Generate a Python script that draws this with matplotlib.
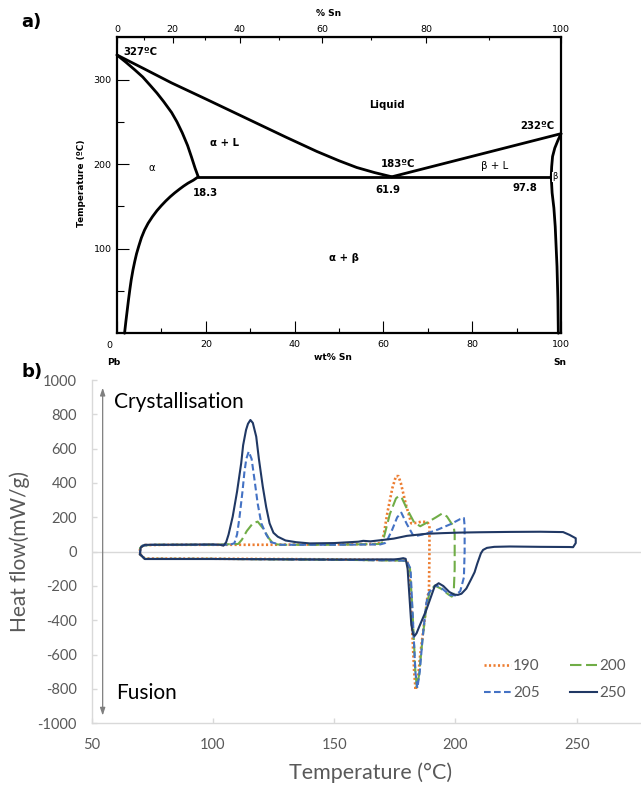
import numpy as np
import matplotlib
matplotlib.use('Agg')
import matplotlib.pyplot as plt
from matplotlib.ticker import FixedLocator

plt.rcParams['font.family'] = ['DejaVu Sans']
plt.rcParams['axes.unicode_minus'] = False

# ---------------- panel a: Pb-Sn phase diagram (wt% Sn, T in degC) ----------------
liq_left_wt = [0, 6, 12.3, 20, 30, 38, 45, 50, 54, 58, 61.9]
liq_left_t = [329, 313, 296, 277, 252, 232, 215, 204, 196, 190, 185]

sol_alpha_wt = [0, 2, 4, 5.8, 7.5, 9, 10.5, 12.3, 13.5, 14.7, 15.9, 16.8, 17.6, 18.3]
sol_alpha_t = [329, 320.5, 311.5, 303, 293, 284, 274, 261, 250, 237, 222, 208, 195, 185]

solvus_alpha_wt = [18.3, 17.2, 16, 15, 14.1, 13, 12, 11, 10, 9, 8, 7, 6.2, 5.5, 4.9,
                   4.4, 4, 3.6, 3.2, 2.9, 2.6, 2.3, 2, 1.7]
solvus_alpha_t = [185, 181, 177.5, 174, 170.5, 166, 161.5, 156.5, 151, 145, 138, 130,
                  122, 113, 103, 94, 85, 75, 63, 52, 40, 27, 14, 0]

eutectic_wt = [18.3, 97.8]
eutectic_t = [185, 185]

liq_right_wt = [61.9, 100]
liq_right_t = [185, 236]

sol_beta_wt = [100, 99.3, 98.6, 98.1, 97.9, 97.8]
sol_beta_t = [236, 228, 219, 209, 197, 185]

solvus_beta_wt = [97.8, 98.0, 98.4, 98.7, 99.1, 99.3, 99.4]
solvus_beta_t = [185, 166, 148, 126, 79, 40, 0]

wt_ticks = [0, 20, 40, 60, 80, 100]
at_ticks = [0, 20, 40, 60, 80, 100]
t_ticks = [100, 200, 300]

M_SN, M_PB = 118.71, 207.2


def wt2at(w):
    w = np.asarray(w, dtype=float)
    a = w / M_SN
    b = (100 - w) / M_PB
    return 100 * a / np.maximum(a + b, 1e-12)


def at2wt(x):
    x = np.asarray(x, dtype=float)
    a = x * M_SN
    b = (100 - x) * M_PB
    return 100 * a / np.maximum(a + b, 1e-12)


# ---------------- panel b: DSC loops (T in degC, heat flow mW/g) ----------------
t_190 = [70, 72, 100, 150, 178, 180, 181, 182, 183, 183.6, 184.5, 185.5, 187.3, 188.5,
         189.1, 189.3, 189.3, 188.5, 186, 184, 181.8, 179.5, 177.5, 176.5, 175.5, 174,
         172, 170.5, 169.5, 168, 150, 120, 100, 80, 72, 70, 70]
hf_190 = [-15, -40, -41, -45, -50, -55, -100, -400, -700, -806, -750, -600, -398, -260,
          -233, 0, 150, 172, 175, 168, 165, 280, 400, 440, 440, 370,
          230, 100, 58, 45, 42, 40, 40, 40, 38, 25, -15]

t_200 = [70, 72, 100, 150, 178, 180, 181.3, 182.5, 183.5, 184.1, 185, 186.5, 188, 189.5,
         191.5, 194, 197, 198.5, 199.3, 199.7, 199.7, 199.3, 198.3, 196.5, 194.5, 192,
         189, 185.5, 183, 180, 178, 176.7, 175.5, 173, 171, 170, 169, 150, 128, 125,
         123, 121, 118.5, 116.5, 114, 112, 110.5, 100, 75, 71, 70, 70]
hf_200 = [-15, -42, -42, -47, -52, -55, -100, -400, -700, -790, -720, -500, -320, -230,
          -198, -215, -248, -262, -240, -100, 100, 150, 166, 205, 222, 200,
          175, 148, 170, 250, 310, 325, 310, 220, 110, 55, 45, 40, 40, 45,
          80, 130, 175, 165, 120, 70, 45, 40, 40, 35, 20, -15]

t_205 = [70, 72, 100, 150, 178, 180, 181.5, 182.5, 183.5, 184.3, 185.3, 186.5, 188, 189,
         191.9, 194.5, 197.6, 200, 202, 203.5, 203.8, 203.8, 203.5, 202, 198, 193, 188,
         184, 182.5, 180, 177.7, 176, 174, 172, 171, 169, 150, 128, 124, 122, 120,
         118.5, 117.2, 116, 114.8, 113.8, 113, 112.3, 111, 110, 108.9, 107, 100, 75,
         71, 70, 70]
hf_205 = [-15, -42, -42, -47, -52, -55, -100, -400, -700, -795, -700, -500, -300, -240,
          -195, -215, -252, -255, -230, -150, 0, 150, 196, 190, 160, 130, 105,
          92, 97, 160, 227, 200, 130, 70, 50, 42, 40, 40, 55, 100, 165,
          280, 418, 540, 583, 540, 460, 359, 200, 100, 49, 40, 40, 40,
          35, 20, -15]

t_250 = [70, 72, 100, 150, 175, 177, 178.5, 179.5, 180.3, 181, 181.8, 182.5, 183.2, 184,
         185, 186.5, 188, 190, 191.5, 193.1, 195, 197.5, 199.5, 201, 202.5, 204.5, 206.5,
         207.9, 209, 210.5, 211.4, 213, 216, 222.4, 235, 247, 248.5, 249.6, 249.6, 247,
         244.4, 235, 222.4, 210, 201.7, 195, 188, 180, 174.6, 170, 165, 162, 160, 150,
         140, 134.4, 130, 126.8, 125, 123.4, 122, 120.6, 119, 117.9, 116.5, 115.5, 114.5,
         113.7, 112.5, 111.7, 110, 108.2, 106.5, 105.5, 104.4, 103, 100, 80, 72, 70.3, 70]
hf_250 = [-15, -43, -43, -46, -45, -42, -38, -42, -100, -250, -420, -480, -491, -475,
          -440, -390, -340, -260, -200, -184, -200, -235, -250, -252, -245, -215, -160,
          -120, -70, -10, 10, 22, 28, 30, 28, 27, 26, 50, 78, 98,
          114, 116, 115, 113, 111, 108, 104, 92, 76, 68, 60, 63, 58, 50,
          48, 55, 65, 87, 110, 165, 260, 379, 540, 670, 750, 767, 745,
          709, 620, 515, 350, 204, 100, 55, 35, 40, 42, 40, 40, 25, -15]

series_labels = ['190', '200', '205', '250']
series_colors = ['#ED7D31', '#70AD47', '#4472C4', '#203864']

hf_ticks = list(range(-1000, 1001, 200))
temp_ticks = [50, 100, 150, 200, 250]

# ---------------- figure ----------------
fig = plt.figure(figsize=(6.41, 7.86), dpi=100)

# panel a
ax = fig.add_axes([117 / 641, 0.576, 444 / 641, 0.3766])
lw_curve = 2.0
for xs, ys in [(liq_left_wt, liq_left_t), (sol_alpha_wt, sol_alpha_t),
               (solvus_alpha_wt, solvus_alpha_t), (eutectic_wt, eutectic_t),
               (liq_right_wt, liq_right_t), (sol_beta_wt, sol_beta_t),
               (solvus_beta_wt, solvus_beta_t)]:
    ax.plot(xs, ys, color='black', lw=lw_curve, solid_capstyle='round',
            solid_joinstyle='round', clip_on=False)
ax.set_xlim(0, 100)
ax.set_ylim(0, 350)
for s in ax.spines.values():
    s.set_linewidth(1.6)
ax.set_xticks(wt_ticks)
ax.set_xticklabels([''] + [str(v) for v in wt_ticks[1:]])
ax.xaxis.set_minor_locator(FixedLocator(list(range(10, 100, 20))))
ax.set_yticks(t_ticks)
ax.yaxis.set_minor_locator(FixedLocator([50, 150, 250]))
ax.tick_params(axis='x', which='major', direction='in', length=8.5, width=0.8,
               pad=4.5, labelsize=6.8, bottom=True, top=False)
ax.tick_params(axis='x', which='minor', direction='in', length=3.6, width=0.8,
               bottom=True, top=False)
ax.tick_params(axis='y', which='major', direction='in', length=8.3, width=0.8,
               pad=4, labelsize=6.8, left=True, right=False)
ax.tick_params(axis='y', which='minor', direction='in', length=4.7, width=0.8,
               left=True, right=False)

sec = ax.secondary_xaxis('top', functions=(wt2at, at2wt))
sec.set_xticks(at_ticks)
sec.set_xticks(list(range(10, 100, 20)), minor=True)
sec.tick_params(which='major', direction='in', length=4.3, width=0.8, pad=2.5,
                labelsize=6.8)
sec.tick_params(which='minor', direction='in', length=2.5, width=0.8)

bold_kw = dict(fontsize=7.3, fontweight='bold', ha='center', va='center')
ax.text(5.3, 332, '327ºC', **bold_kw)
ax.text(60.8, 270, 'Liquid', **bold_kw)
ax.text(94.6, 245, '232ºC', **bold_kw)
ax.text(24.2, 225, 'α + L', **bold_kw)
ax.text(7.8, 195, 'α', fontsize=7.3, ha='center', va='center')
ax.text(63.4, 200, '183ºC', **bold_kw)
ax.text(85.1, 198, 'β + L', fontsize=7.3, ha='center', va='center')
ax.text(98.6, 185, 'β', fontsize=6, ha='center', va='center',
        bbox=dict(facecolor='white', edgecolor='none', pad=0.3))
ax.text(19.9, 166, '18.3', **bold_kw)
ax.text(61.1, 169, '61.9', **bold_kw)
ax.text(91.8, 172, '97.8', **bold_kw)
ax.text(51.2, 89, 'α + β', **bold_kw)

fig.text(109.3 / 641, 1 - 345 / 786, '0', fontsize=6.8, ha='center', va='center')
fig.text(329 / 641, 1 - 14 / 786, '% Sn', fontsize=6.6, fontweight='bold',
         ha='center', va='center')
fig.text(333 / 641, 1 - 358 / 786, 'wt% Sn', fontsize=6.6, fontweight='bold',
         ha='center', va='center')
fig.text(114 / 641, 1 - 362 / 786, 'Pb', fontsize=6.6, fontweight='bold',
         ha='center', va='center')
fig.text(560 / 641, 1 - 362 / 786, 'Sn', fontsize=6.6, fontweight='bold',
         ha='center', va='center')
fig.text(82 / 641, 1 - 183 / 786, 'Temperature (ºC)', fontsize=6.4,
         fontweight='bold', rotation=90, ha='center', va='center')
fig.text(31 / 641, 1 - 22 / 786, 'a)', fontsize=13, fontweight='bold',
         ha='center', va='center')
fig.text(32 / 641, 1 - 372 / 786, 'b)', fontsize=13, fontweight='bold',
         ha='center', va='center')

# panel b
bx = fig.add_axes([91.5 / 641, 62.7 / 786, (641 - 91.5) / 641, 343.3 / 786])
styles = [(0, (0.8, 0.9)), (0, (5.5, 2.2)), (0, (3.2, 1.6)), '-']
lws = [1.9, 1.5, 1.5, 1.5]
data_b = [(t_190, hf_190), (t_200, hf_200), (t_205, hf_205), (t_250, hf_250)]
handles = []
for (xs, ys), lab, col, ls, lw in zip(data_b, series_labels, series_colors, styles, lws):
    h, = bx.plot(xs, ys, color=col, ls=ls, lw=lw, label=lab,
                 solid_joinstyle='round', dash_capstyle='butt')
    handles.append(h)

bx.axhline(0, color='#D9D9D9', lw=1.0, zorder=0)
bx.set_xlim(50, 276.5)
bx.set_ylim(-1000, 1000)
bx.set_xticks(temp_ticks)
bx.set_yticks(hf_ticks)
for side in ['top', 'right']:
    bx.spines[side].set_visible(False)
for side in ['left', 'bottom']:
    bx.spines[side].set_color('#D9D9D9')
    bx.spines[side].set_linewidth(1.0)
bx.tick_params(direction='in', length=3.5, width=1.0, color='#D9D9D9',
               labelcolor='#595959', labelsize=10.5, pad=10.5)
for lbl in bx.get_xticklabels() + bx.get_yticklabels():
    lbl.set_family('Lato')

bx.set_ylabel('Heat flow(mW/g)', fontsize=15, color='#595959', family='Lato')
bx.yaxis.set_label_coords(-0.1307, 0.5)
bx.yaxis.label.set_va('center')
bx.set_xlabel('Temperature (°C)', fontsize=15.5, color='#595959', family='Lato')
bx.xaxis.set_label_coords(0.508, -0.145)
bx.xaxis.label.set_va('center')

bx.annotate('', xy=(54.6, 955), xytext=(54.6, -955),
            arrowprops=dict(arrowstyle='<|-|>,head_length=0.45,head_width=0.15',
                            color='#7F7F7F', lw=0.9, shrinkA=0, shrinkB=0))
bx.text(59.3, 874, 'Crystallisation', fontsize=15, family='Lato', ha='left',
        va='center', color='black')
bx.text(60.1, -823, 'Fusion', fontsize=15, family='Lato', ha='left',
        va='center', color='black')

# legend fills column-wise: order so rows read 190, 200 / 205, 250
order = [0, 2, 1, 3]
leg = bx.legend(handles=[handles[i] for i in order],
                labels=[series_labels[i] for i in order],
                ncol=2, frameon=False, loc='upper left',
                bbox_to_anchor=(484 / 641, 1 - 659 / 786),
                bbox_transform=fig.transFigure, borderaxespad=0, borderpad=0,
                handlelength=1.75, handletextpad=0.15, columnspacing=2.0,
                labelspacing=0.85, prop={'family': 'Lato', 'size': 11})
for t in leg.get_texts():
    t.set_color('#595959')

fig.savefig('out.png', dpi=100)
